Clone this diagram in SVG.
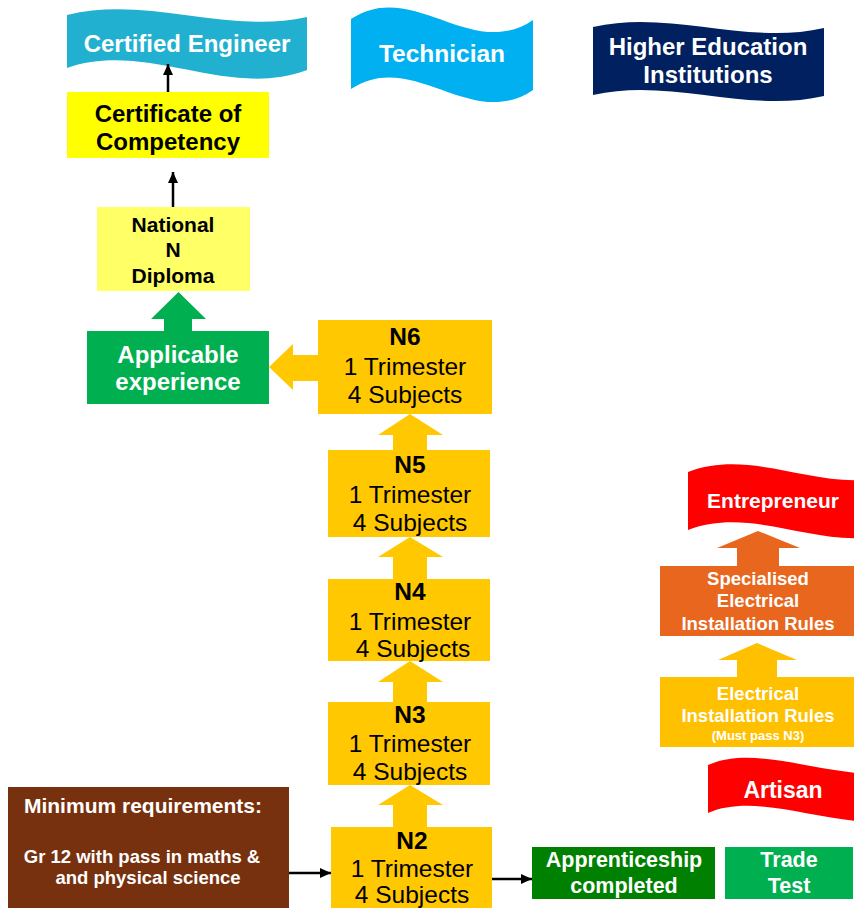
<svg xmlns="http://www.w3.org/2000/svg" width="854" height="908" viewBox="0 0 854 908">
<defs>
<style>
text{font-family:"Liberation Sans",Arial,sans-serif;text-anchor:middle}
.b{font-weight:bold}
.w{fill:#ffffff}
.k{fill:#000000}
.n{font-size:24.5px}
.ny{fill:#FFC800}
.line{stroke:#000;stroke-width:2.5;fill:none}
</style>
<marker id="ah" markerUnits="userSpaceOnUse" markerWidth="12" markerHeight="12" viewBox="0 0 12 12" refX="11" refY="6" orient="auto">
<path d="M0,1 L11,6 L0,11 Z" fill="#000"/>
</marker>
</defs>
<rect width="854" height="908" fill="#ffffff"/>

<g id="certified-engineer">
<path d="M67,15 C147,-5 227,35 307,17 L307,70 C227,100 147,40 67,68 Z" fill="#22B0D0"/>
<text class="b w" x="187" y="52" font-size="24">Certified Engineer</text>
</g>
<g id="technician">
<path d="M351,19 C412,-22 472,62 533,20 L533,90 C472,132 412,48 351,89 Z" fill="#00B0F0"/>
<text class="b w" x="442" y="62" font-size="24.5">Technician</text>
</g>
<g id="higher-education">
<path d="M593,27 C670,9 747,46 824,28 L824,96 C747,114 670,77 593,95 Z" fill="#002060"/>
<text class="b w" x="708" y="55" font-size="24">Higher Education</text>
<text class="b w" x="708" y="83" font-size="24">Institutions</text>
</g>

<g id="certificate">
<rect x="67" y="92" width="202" height="66" fill="#FFFF00"/>
<text class="b k" x="168" y="122" font-size="24">Certificate of</text>
<text class="b k" x="168" y="150" font-size="24">Competency</text>
</g>
<g id="diploma">
<rect x="97" y="207" width="153" height="84" fill="#FFFF66"/>
<text class="b k" x="173" y="232" font-size="21">National</text>
<text class="b k" x="173" y="257" font-size="21">N</text>
<text class="b k" x="173" y="283" font-size="21">Diploma</text>
</g>
<g id="applicable">
<rect x="87" y="331" width="182" height="73" fill="#00B050"/>
<text class="b w" x="178" y="363" font-size="24">Applicable</text>
<text class="b w" x="178" y="390" font-size="24">experience</text>
</g>

<g id="n6">
<rect x="318" y="320" width="174" height="94" class="ny"/>
<text class="b k n" x="405" y="345">N6</text>
<text class="k n" x="405" y="375">1 Trimester</text>
<text class="k n" x="405" y="403">4 Subjects</text>
</g>
<g id="n5">
<rect x="328" y="450" width="162" height="87" class="ny"/>
<text class="b k n" x="410" y="473">N5</text>
<text class="k n" x="410" y="503">1 Trimester</text>
<text class="k n" x="410" y="531">4 Subjects</text>
</g>
<g id="n4">
<rect x="328" y="579" width="162" height="82" class="ny"/>
<text class="b k n" x="410" y="600">N4</text>
<text class="k n" x="410" y="630">1 Trimester</text>
<text class="k n" x="413" y="657">4 Subjects</text>
</g>
<g id="n3">
<rect x="328" y="702" width="162" height="83" class="ny"/>
<text class="b k n" x="410" y="723">N3</text>
<text class="k n" x="410" y="752">1 Trimester</text>
<text class="k n" x="410" y="780">4 Subjects</text>
</g>
<g id="n2">
<rect x="331" y="827" width="161" height="90" class="ny"/>
<text class="b k n" x="412" y="849">N2</text>
<text class="k n" x="412" y="877">1 Trimester</text>
<text class="k n" x="412" y="903">4 Subjects</text>
</g>

<g id="minimum">
<rect x="8" y="787" width="281" height="130" fill="#78310E"/>
<text class="b w" x="143" y="813" font-size="21">Minimum requirements:</text>
<text class="b w" x="142" y="863" font-size="18.5">Gr 12 with pass in maths &amp;</text>
<text class="b w" x="148" y="884" font-size="18.5">and physical science</text>
</g>
<g id="apprenticeship">
<rect x="532" y="847" width="183" height="52" fill="#008000"/>
<text class="b w" x="624" y="867" font-size="21.5">Apprenticeship</text>
<text class="b w" x="624" y="893" font-size="21.5">completed</text>
</g>
<g id="trade-test">
<rect x="725" y="847" width="128" height="52" fill="#00B050"/>
<text class="b w" x="789" y="867" font-size="21.5">Trade</text>
<text class="b w" x="789" y="893" font-size="21.5">Test</text>
</g>

<g id="entrepreneur">
<path d="M688,472 C759,445 829,500 900,472 L900,530 C829,558 759,503 688,530 Z" fill="#FF0000"/>
<text class="b w" x="773" y="508" font-size="21">Entrepreneur</text>
</g>
<g id="specialised">
<rect x="660" y="566" width="194" height="70" fill="#E8661E"/>
<text class="b w" x="758" y="585" font-size="18.5">Specialised</text>
<text class="b w" x="758" y="607" font-size="18.5">Electrical</text>
<text class="b w" x="758" y="630" font-size="18.5">Installation Rules</text>
</g>
<g id="eir">
<rect x="660" y="677" width="194" height="70" fill="#FFC000"/>
<text class="b w" x="758" y="700" font-size="18.5">Electrical</text>
<text class="b w" x="758" y="722" font-size="18.5">Installation Rules</text>
<text class="b w" x="758" y="740" font-size="13">(Must pass N3)</text>
</g>
<g id="artisan">
<path d="M708,765 C765,740 850,790 910,768 L910,816 C850,838 765,788 708,813 Z" fill="#FF0000"/>
<text class="b w" x="783" y="798" font-size="23">Artisan</text>
</g>

<g id="connectors">
<line class="line" x1="168" y1="92" x2="168" y2="64" marker-end="url(#ah)"/>
<line class="line" x1="173" y1="207" x2="173" y2="172" marker-end="url(#ah)"/>
<polygon points="164,331 164,319 151,319 178.5,292 206,319 192,319 192,331" fill="#00B050"/>
<polygon points="318,355 293,355 293,344 269,367 293,390 293,381 318,381" fill="#FFC800"/>
<polygon points="393,450 393,435 378,435 410,414 443,435 427,435 427,450" fill="#FFC800"/>
<polygon points="393,579 393,557 378,557 410,537 443,557 427,557 427,579" fill="#FFC800"/>
<polygon points="393,702 393,682 378,682 410,661 443,682 427,682 427,702" fill="#FFC800"/>
<polygon points="393,827 393,805 378,805 410,785 443,805 427,805 427,827" fill="#FFC800"/>
<polygon points="737,566 737,548 717,548 758,531 800,548 779,548 779,566" fill="#E8661E"/>
<polygon points="737,677 737,660 718,660 757,643 797,660 777,660 777,677" fill="#FFC000"/>
<line class="line" x1="289" y1="873" x2="331" y2="873" marker-end="url(#ah)"/>
<line class="line" x1="492" y1="879" x2="532" y2="879" marker-end="url(#ah)"/>
</g>
</svg>
